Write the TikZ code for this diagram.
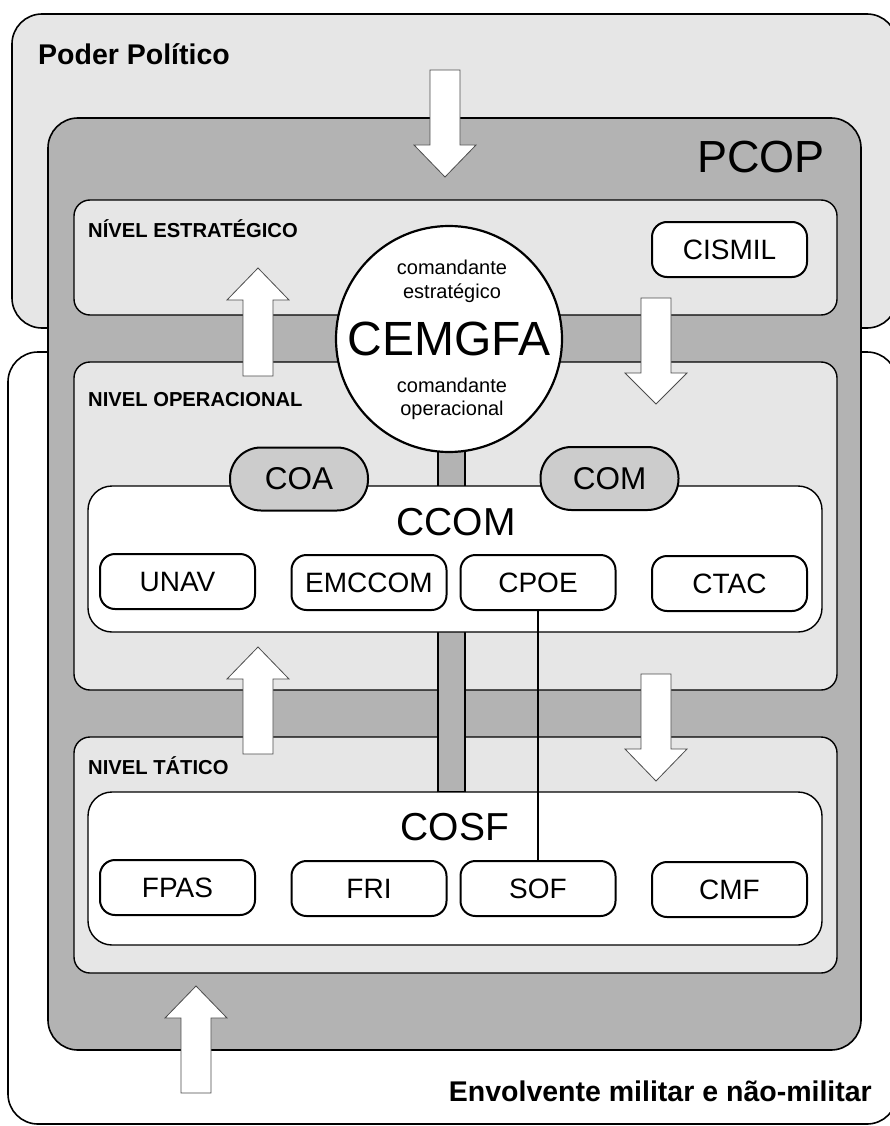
\documentclass[tikz,border=0pt]{standalone}
\usepackage{fontspec}
\setmainfont{Liberation Sans}
\usepackage{xcolor}
\usepackage{tikz}
\definecolor{fundo}{HTML}{E6E6E6}
\definecolor{pcopcor}{HTML}{B3B3B3}
\definecolor{pillcor}{HTML}{CCCCCC}
% seta larga: x, cauda, base da ponta, ponta
\newcommand{\seta}[4]{%
  \draw[seta] (#1-15,#2) -- (#1-15,#3) -- (#1-31,#3) -- (#1,#4)
    -- (#1+31,#3) -- (#1+15,#3) -- (#1+15,#2) -- cycle;}

\begin{document}
\begin{tikzpicture}
  [x=1pt, y=-1pt, every node/.style={inner sep=0pt},
   envolt/.style={draw, line width=1.6pt, rounded corners=30pt},
   nivel/.style={draw, fill=fundo, line width=1.4pt, rounded corners=16pt, minimum width=763pt},
   quadro/.style={draw, fill=white, line width=1.4pt, rounded corners=24pt, minimum width=734pt},
   unidade/.style={draw, fill=white, line width=2pt, rounded corners=15pt,
     minimum width=155pt, minimum height=55pt, font=\fontsize{28}{33}\selectfont},
   pill/.style={draw, fill=pillcor, line width=2pt, rounded corners=31pt,
     minimum width=138pt, minimum height=63pt, font=\fontsize{31.5}{36}\selectfont},
   seta/.style={draw=black!70, fill=white, line width=0.8pt},
   titulo/.style={font=\bfseries\fontsize{28.5}{34}\selectfont},
   rotulo/.style={font=\bfseries\fontsize{20.2}{24}\selectfont, anchor=base west},
   grande/.style={font=\fontsize{39}{44}\selectfont, anchor=base},
   sub/.style={font=\fontsize{20}{24}\selectfont, anchor=base}]
  \useasboundingbox (0,0) rectangle (889,1126);

  % ambientes externos
  \node[envolt, fill=fundo, minimum width=885pt, minimum height=314pt] (poder) at (454.5,171) {};
  \node[envolt, fill=white, minimum width=889pt, minimum height=772pt] (envolvente) at (452.5,738) {};
  \node[titulo, anchor=base west] (poderlbl) at (38,65) {Poder Político};
  \node[titulo, anchor=base east] (envlbl) at (872,1101) {Envolvente militar e não-militar};

  % PCOP e niveis
  \node[envolt, fill=pcopcor, minimum width=813pt, minimum height=932pt] (pcop) at (454.5,584) {};
  \node[font=\fontsize{45}{50}\selectfont, anchor=base east] (pcoplbl) at (825,173) {PCOP};
  \node[nivel, minimum height=115pt] (estrategico) at (455.5,257.5) {};
  \node[nivel, minimum height=328pt] (operacional) at (455.5,526) {};
  \node[nivel, minimum height=236pt] (tatico) at (455.5,855) {};
  \node[rotulo] (estrlbl) at (88,237) {NÍVEL ESTRATÉGICO};
  \node[rotulo] (operlbl) at (88,406) {NIVEL OPERACIONAL};
  \node[rotulo] (tatlbl) at (88,774) {NIVEL TÁTICO};
  \node[draw, fill=pcopcor, line width=1.2pt, minimum width=27pt, minimum height=347pt] (barra) at (451.5,618.5) {};

  % CCOM e COSF
  \node[quadro, minimum height=146pt] (ccom) at (455,559) {};
  \node[grande] (ccomlbl) at (456,535) {CCOM};
  \node[quadro, minimum height=153pt] (cosf) at (455,868.5) {};
  \node[grande] (cosflbl) at (455,840) {COSF};

  \node[circle, draw, fill=white, line width=2.2pt, minimum size=226pt,
    font=\fontsize{48}{52}\selectfont] (cemgfa) at (449,339) {CEMGFA};
  \node[sub] (estr1) at (452,274) {comandante};
  \node[sub] (estr2) at (452,298) {estratégico};
  \node[sub] (oper1) at (452,392) {comandante};
  \node[sub] (oper2) at (452,415) {operacional};

  \node[pill] (coa) at (299,479) {COA};
  \node[pill] (com) at (609.5,478.5) {COM};
  \node[unidade] (cismil) at (729.5,249.5) {CISMIL};
  \node[unidade] (unav) at (177.5,581.5) {UNAV};
  \node[unidade] (emccom) at (369,582.5) {EMCCOM};
  \node[unidade] (cpoe) at (538,582.5) {CPOE};
  \node[unidade] (ctac) at (729.5,583.5) {CTAC};
  \node[unidade] (fpas) at (177.5,887.5) {FPAS};
  \node[unidade] (fri) at (369,888.5) {FRI};
  \node[unidade] (sof) at (538,888.5) {SOF};
  \node[unidade] (cmf) at (729.5,889.5) {CMF};
  \draw[line width=1.6pt] (cpoe) -- (sof);

  % setas
  \seta{445}{70}{145}{177}
  \seta{258}{376}{300}{268}
  \seta{656}{298}{373}{404}
  \seta{258}{754}{679}{647}
  \seta{656}{674}{749}{781}
  \seta{196}{1093}{1018}{986}
\end{tikzpicture}
\end{document}
